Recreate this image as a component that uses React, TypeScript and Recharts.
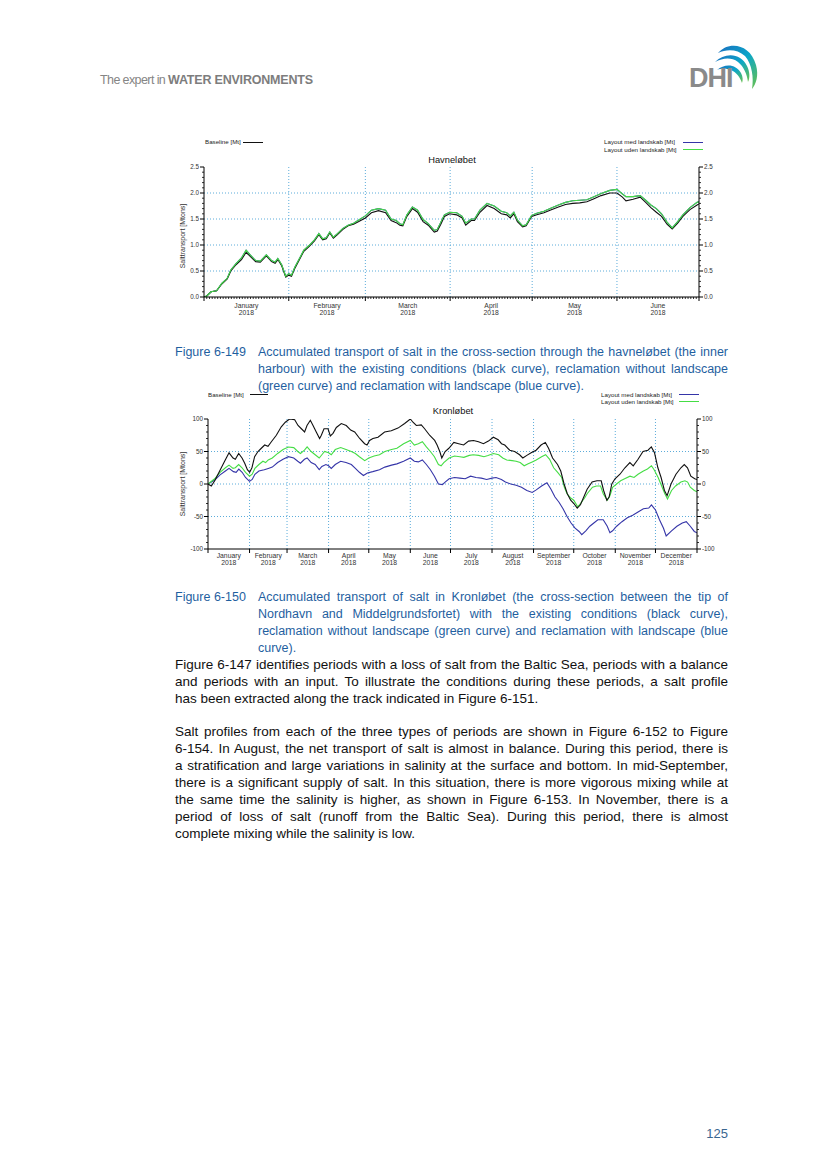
import React from 'react';
import { LineChart, Line, XAxis, YAxis, ReferenceLine } from 'recharts';

const FONT = '"Liberation Sans", Arial, Helvetica, sans-serif';

const MONTH_NAMES = ['January', 'February', 'March', 'April', 'May', 'June', 'July', 'August', 'September', 'October', 'November', 'December'];
const YEAR = '2018';
const MONTH_START_DAYS = [0, 31, 59, 90, 120, 151, 181, 212, 243, 273, 304, 334, 365];

// ---------- Havneløbet (Jan - Jun 2018), Mt ----------
const havnDays = [0, 1, 2.6, 4.6, 6.5, 8.5, 9.8, 11.7, 13.7, 15.4, 16.9, 18.9, 20.6, 22.8, 24.7, 26, 27, 28.4, 29.9, 31, 32, 33.2, 35.2, 36.5, 38.4, 40.4, 42, 43.4, 44.7, 46, 47.3, 48.8, 50.8, 52.7, 54.7, 56.6, 59, 61.2, 63.8, 66.4, 68.4, 70.3, 71.6, 72.7, 74.2, 76.2, 78.1, 80.1, 82, 84.2, 85.3, 86.6, 87.9, 89.8, 92.4, 94.4, 95.7, 97.7, 98.9, 100.9, 103.5, 106.1, 108.7, 110.7, 112, 113.3, 114.6, 116.5, 117.8, 119.8, 121.7, 124.3, 127, 129.6, 132.2, 134.8, 137.4, 140, 142.6, 145.2, 148.4, 151, 153, 154.3, 156.9, 159.5, 161.5, 163.4, 165.4, 167.3, 169.3, 171.2, 173.2, 175.1, 177.7, 180.3, 181];
const havnBaseline = [0, 0.02, 0.1, 0.12, 0.25, 0.35, 0.5, 0.62, 0.72, 0.86, 0.78, 0.68, 0.67, 0.79, 0.68, 0.65, 0.72, 0.6, 0.38, 0.42, 0.4, 0.55, 0.75, 0.88, 0.97, 1.08, 1.2, 1.1, 1.12, 1.23, 1.13, 1.2, 1.3, 1.37, 1.4, 1.45, 1.52, 1.62, 1.66, 1.62, 1.47, 1.43, 1.38, 1.37, 1.55, 1.7, 1.63, 1.45, 1.38, 1.25, 1.27, 1.4, 1.55, 1.6, 1.58, 1.52, 1.38, 1.47, 1.47, 1.63, 1.76, 1.7, 1.6, 1.58, 1.52, 1.6, 1.45, 1.35, 1.37, 1.55, 1.58, 1.62, 1.68, 1.73, 1.78, 1.8, 1.81, 1.83, 1.89, 1.95, 2.0, 2.0, 1.92, 1.85, 1.88, 1.92, 1.82, 1.72, 1.63, 1.55, 1.4, 1.31, 1.42, 1.55, 1.68, 1.77, 1.79];
const havnUden = [0, 0.02, 0.1, 0.12, 0.26, 0.36, 0.52, 0.64, 0.75, 0.9, 0.81, 0.7, 0.69, 0.81, 0.7, 0.67, 0.74, 0.62, 0.4, 0.45, 0.42, 0.57, 0.77, 0.9, 0.99, 1.1, 1.22, 1.12, 1.14, 1.25, 1.15, 1.22, 1.32, 1.38, 1.42, 1.48, 1.56, 1.67, 1.7, 1.67, 1.5, 1.47, 1.41, 1.39, 1.58, 1.73, 1.67, 1.49, 1.41, 1.28, 1.3, 1.44, 1.58, 1.63, 1.62, 1.55, 1.42, 1.5, 1.5, 1.67, 1.8, 1.75, 1.65, 1.62, 1.56, 1.63, 1.48, 1.37, 1.39, 1.57, 1.61, 1.65, 1.71, 1.77, 1.82, 1.85, 1.86, 1.87, 1.93, 1.99, 2.05, 2.07, 1.98, 1.93, 1.93, 1.95, 1.86, 1.77, 1.7, 1.6, 1.44, 1.33, 1.45, 1.58, 1.72, 1.82, 1.83];
// the blue curve lies directly under the green one in this figure
const havnMed = [0, 0.02, 0.1, 0.12, 0.26, 0.36, 0.52, 0.64, 0.75, 0.9, 0.81, 0.7, 0.69, 0.81, 0.7, 0.67, 0.74, 0.62, 0.4, 0.45, 0.42, 0.57, 0.77, 0.9, 0.99, 1.1, 1.22, 1.12, 1.14, 1.25, 1.15, 1.22, 1.32, 1.38, 1.42, 1.48, 1.56, 1.67, 1.7, 1.67, 1.5, 1.47, 1.41, 1.39, 1.58, 1.73, 1.67, 1.49, 1.41, 1.28, 1.3, 1.44, 1.58, 1.63, 1.62, 1.55, 1.42, 1.5, 1.5, 1.67, 1.8, 1.75, 1.65, 1.62, 1.56, 1.63, 1.48, 1.37, 1.39, 1.57, 1.61, 1.65, 1.71, 1.77, 1.82, 1.85, 1.86, 1.87, 1.93, 1.99, 2.05, 2.07, 1.98, 1.93, 1.93, 1.95, 1.86, 1.77, 1.7, 1.6, 1.44, 1.33, 1.45, 1.58, 1.72, 1.82, 1.83];

// ---------- Kronløbet (Jan - Dec 2018), Mt ----------
const kronBaseDays = [0, 2.5, 5, 8.7, 12.4, 15.7, 18.7, 20.4, 22.9, 25.4, 27.4, 29.4, 31.1, 32.8, 34.8, 37.3, 39.8, 42.3, 44.8, 47.3, 51, 54.7, 57.7, 60.9, 64.7, 67.2, 69.7, 72.1, 73.9, 76.4, 78.4, 80.8, 83.3, 84.6, 86.6, 89.6, 91.3, 93.3, 95.8, 99.5, 103.2, 106.5, 109.5, 113.2, 116.9, 118.7, 120.6, 123.1, 126.9, 131.8, 136.8, 141.8, 146.8, 151, 153, 155.5, 159.2, 161.7, 165.4, 169.2, 171, 173, 174.5, 177, 179.8, 183.5, 187.1, 190.8, 194.5, 198.2, 201.9, 205.6, 209.3, 213, 216.6, 219.1, 221.5, 225.2, 228.9, 232.6, 235, 238, 241.2, 244.9, 248.6, 251.8, 254.2, 257.2, 260.9, 263.3, 265.8, 268.2, 270.7, 273.1, 275.6, 278, 280.5, 283, 286.7, 290.3, 293.5, 295.3, 297.7, 299.4, 301.4, 303.8, 307.5, 311.2, 314.9, 317.4, 321, 324.7, 328.4, 330.9, 333.3, 335.8, 338.2, 340.7, 342.7, 345.6, 349.3, 353, 355.5, 357.9, 360.4, 363.3, 365];
const kronBaseline = [0, -3, 5, 20, 35, 48, 40, 38, 47, 40, 32, 22, 18, 25, 42, 50, 55, 60, 58, 65, 75, 88, 95, 100, 99, 90, 85, 80, 90, 98, 90, 80, 70, 75, 85, 85, 74, 78, 87, 93, 90, 83, 80, 70, 62, 60, 67, 70, 72, 80, 82, 86, 93, 100, 95, 90, 91, 85, 75, 67, 60, 50, 40, 50, 55, 64, 62, 60, 66, 67, 65, 62, 66, 72, 68, 62, 60, 52, 50, 45, 40, 44, 48, 52, 60, 64, 55, 40, 30, 20, 0, -15, -25, -30, -37, -32, -20, -8, 3, 5, 5, -10, -25, -20, 0, 8, 15, 25, 33, 28, 38, 50, 52, 57, 48, 25, 10, -10, -18, 0, 15, 25, 30, 25, 12, 8, 7];

const kronUdenDays = [0, 5, 9, 13, 15.7, 18.7, 20.4, 22.9, 25.4, 28, 31, 33, 35, 38, 41, 43, 45, 48, 52, 56, 60, 64, 67, 69, 72, 74, 77, 80, 83, 85, 87, 90, 92, 95, 99, 103, 107, 110, 113, 117, 120, 124, 128, 132, 137, 141, 146, 151, 154, 157, 160, 163, 166, 169, 172, 174, 176, 180, 184, 188, 191, 195, 198, 202, 206, 209, 213, 217, 220, 223, 227, 230, 233, 236, 239, 242, 245, 249, 252, 255, 258, 261, 264, 266, 268, 271, 273, 276, 278, 281, 283, 287, 290, 293, 295, 298, 300, 302, 305, 308, 311, 315, 318, 321, 325, 328, 331, 333, 336, 338, 341, 343, 346, 349, 353, 356, 358, 360, 363, 365];
const kronUden = [0, 8, 18, 25, 29, 24, 25, 30, 25, 18, 12, 15, 24, 30, 35, 33, 37, 40, 47, 53, 57, 56, 50, 47, 52, 57, 50, 45, 40, 45, 50, 48, 45, 53, 56, 53, 50, 47, 42, 36, 40, 43, 45, 50, 53, 55, 62, 67, 60, 62, 65, 57, 50, 42, 30, 28, 33, 40, 43, 42, 41, 44, 45, 44, 42, 44, 47, 45, 40, 37, 36, 35, 33, 28, 31, 34, 37, 42, 45, 38, 25, 18, 10, -5, -15, -22, -25, -35, -30, -22, -15, -5, -3, -3, -15, -25, -18, -5, 0, 5, 8, 12, 10, 15, 20, 23, 28, 22, 10, 0, -15, -23, -10, -3, 3, 5, 3, -5, -10, -12];

const kronMedDays = [0, 5, 9, 13, 15.7, 19, 21, 23, 25.5, 28, 31, 33, 35, 38, 42, 45, 48, 52, 56, 60, 64, 67, 69, 72, 74, 77, 80, 83, 85, 88, 90, 92, 95, 99, 103, 107, 110, 113, 116, 119, 123, 128, 132, 137, 141, 146, 151, 154, 157, 160, 163, 166, 169, 172, 175, 177, 180, 184, 188, 192, 196, 200, 204, 208, 212, 215, 219, 222, 226, 230, 234, 238, 242, 245, 249, 253, 256, 259, 262, 265, 268, 271, 274, 277, 279, 282, 285, 288, 291, 295, 298, 300, 302, 305, 309, 313, 317, 321, 325, 329, 331, 334, 337, 340, 342, 346, 350, 354, 357, 360, 363, 365];
const kronMed = [0, 6, 14, 20, 24, 19, 18, 23, 18, 10, 4, 7, 15, 20, 22, 24, 26, 33, 38, 42, 40, 35, 32, 38, 40, 33, 30, 22, 27, 30, 28, 24, 30, 35, 33, 30, 24, 18, 13, 17, 19, 22, 26, 29, 31, 35, 40, 35, 34, 37, 30, 22, 12, 0, -1, 3, 8, 10, 9, 8, 12, 10, 9, 7, 9, 10, 7, 3, 0, -2, -5, -10, -13, -9, -3, 2, -8, -20, -28, -38, -50, -60, -68, -73, -78, -72, -65, -60, -55, -55, -65, -75, -72, -65, -58, -52, -48, -43, -38, -37, -32, -40, -55, -68, -80, -72, -65, -60, -58, -65, -73, -75];

const havnYTicks = [0, 0.5, 1.0, 1.5, 2.0, 2.5];
const kronYTicks = [-100, -50, 0, 50, 100];

const BLACK = '#111111';
const GREEN = '#45dd45';
const BLUE = '#3535a8';
const GRID = '#4aa3d6';

const toPts = (days: number[], vals: number[]) => days.map((d, i) => ({ d, v: vals[i] }));

type Series = { name: string; pts: { d: number; v: number }[]; color: string };

type ChartProps = {
  left: number; top: number; width: number; height: number;
  marginTop: number; yWidthL: number; yWidthR: number; xHeight: number;
  monthCount: number; yMajor: number[]; yMinorStep: number; yDecimals: number;
  series: Series[]; minorX: boolean; xdy1: number; xdy2: number;
};

function SaltChart(p: ChartProps) {
  const starts = MONTH_START_DAYS.slice(0, p.monthCount + 1);
  const xMax = starts[starts.length - 1];
  const mids = starts.slice(0, -1).map((s, i) => s + (starts[i + 1] - s) / 2);
  const names = MONTH_NAMES.slice(0, p.monthCount);
  const tickSet = new Set<number>([...starts, ...mids]);
  if (p.minorX) for (let i = 0; i <= xMax; i++) tickSet.add(i);
  const xTicks = Array.from(tickSet).sort((a, b) => a - b);

  const yMin = p.yMajor[0];
  const yMax = p.yMajor[p.yMajor.length - 1];
  const n = Math.round((yMax - yMin) / p.yMinorStep);
  const yTicks: number[] = [];
  for (let i = 0; i <= n; i++) yTicks.push(Number((yMin + i * p.yMinorStep).toFixed(4)));
  const isMajorY = (v: number) => p.yMajor.some((m) => Math.abs(m - v) < 1e-6);

  const xTick = (props: any) => {
    const v = props.payload.value;
    const x = props.x;
    const y = props.y;
    const isStart = starts.includes(v);
    const mi = mids.indexOf(v);
    return (
      <g>
        {isStart ? <line x1={x} x2={x} y1={y} y2={y + 4} stroke="#000" strokeWidth={1} /> : null}
        {!isStart && p.minorX && Number.isInteger(v) ? <line x1={x} x2={x} y1={y} y2={y + 2} stroke="#000" strokeWidth={0.8} /> : null}
        {mi >= 0 ? (
          <text x={x} y={y + p.xdy1} textAnchor="middle" fontSize={6.8} fill="#333" fontFamily={FONT}>{names[mi]}</text>
        ) : null}
        {mi >= 0 ? (
          <text x={x} y={y + p.xdy2} textAnchor="middle" fontSize={6.8} fill="#333" fontFamily={FONT}>{YEAR}</text>
        ) : null}
      </g>
    );
  };

  const yTick = (side: 'l' | 'r') => (props: any) => {
    const v = props.payload.value;
    const x = props.x;
    const y = props.y;
    const major = isMajorY(v);
    const len = major ? 4 : 2;
    const s = side === 'l' ? -1 : 1;
    return (
      <g>
        <line x1={x} x2={x + s * len} y1={y} y2={y} stroke="#000" strokeWidth={major ? 1 : 0.8} />
        {major ? (
          <text x={x + s * 5} y={y} dy="0.35em" textAnchor={side === 'l' ? 'end' : 'start'} fontSize={6.3} fill="#333" fontFamily={FONT}>
            {v.toFixed(p.yDecimals)}
          </text>
        ) : null}
      </g>
    );
  };

  const gridY = p.yMajor.slice(1, -1);
  const gridX = starts.slice(1, -1);

  return (
    <div style={{ position: 'absolute', left: p.left, top: p.top }}>
      <LineChart width={p.width} height={p.height} margin={{ top: p.marginTop, right: 0, bottom: 0, left: 0 }}>
        <XAxis xAxisId="x" type="number" dataKey="d" domain={[0, xMax]} allowDataOverflow ticks={xTicks} interval={0}
          tick={xTick} tickLine={false} tickSize={0} tickMargin={0} height={p.xHeight}
          axisLine={{ stroke: '#000', strokeWidth: 1 }} />
        <YAxis yAxisId="l" type="number" orientation="left" domain={[yMin, yMax]} allowDataOverflow ticks={yTicks} interval={0}
          tick={yTick('l')} tickLine={false} tickSize={0} tickMargin={0} width={p.yWidthL}
          axisLine={{ stroke: '#000', strokeWidth: 1 }} />
        <YAxis yAxisId="r" type="number" orientation="right" domain={[yMin, yMax]} allowDataOverflow ticks={yTicks} interval={0}
          tick={yTick('r')} tickLine={false} tickSize={0} tickMargin={0} width={p.yWidthR}
          axisLine={{ stroke: '#000', strokeWidth: 1 }} />
        {gridY.map((g) => (
          <ReferenceLine key={'gy' + g} xAxisId="x" yAxisId="l" y={g} stroke={GRID} strokeWidth={0.9} strokeDasharray="1 2" />
        ))}
        {gridX.map((g) => (
          <ReferenceLine key={'gx' + g} xAxisId="x" yAxisId="l" x={g} stroke={GRID} strokeWidth={0.9} strokeDasharray="1 2" />
        ))}
        {p.series.map((s) => (
          <Line key={s.name} xAxisId="x" yAxisId="l" data={s.pts} dataKey="v" type="linear" stroke={s.color}
            strokeWidth={1.1} dot={false} activeDot={false} isAnimationActive={false} />
        ))}
        <Line key="axisR" xAxisId="x" yAxisId="r" data={p.series[0].pts} dataKey="v" stroke="none" dot={false} activeDot={false} isAnimationActive={false} />
      </LineChart>
    </div>
  );
}

function T(props: { x: number; y: number; size: number; color?: string; children: React.ReactNode; anchor?: 'start' | 'middle' | 'end'; bold?: boolean }) {
  const tx = props.anchor === 'middle' ? '-50%' : props.anchor === 'end' ? '-100%' : '0';
  return (
    <div style={{
      position: 'absolute', left: props.x, top: props.y, transform: `translate(${tx}, -50%)`,
      fontSize: props.size, lineHeight: 1, color: props.color || '#222', whiteSpace: 'nowrap',
      fontFamily: FONT, fontWeight: props.bold ? 700 : 400,
    }}>{props.children}</div>
  );
}

function LegendLine(props: { x1: number; x2: number; y: number; color: string }) {
  return <div style={{ position: 'absolute', left: props.x1, top: props.y - 0.5, width: props.x2 - props.x1, height: 1, background: props.color }} />;
}

function YLabel(props: { x: number; y: number }) {
  return (
    <div style={{
      position: 'absolute', left: props.x, top: props.y, transform: 'translate(-50%, -50%) rotate(-90deg)',
      fontSize: 7, color: '#333', whiteSpace: 'nowrap', fontFamily: FONT, lineHeight: 1,
    }}>Salttransport [Mtons]</div>
  );
}

function Lines(props: { left: number; top: number; width: number; size: number; color: string; lines: string[]; lastJustified?: boolean }) {
  return (
    <div style={{ position: 'absolute', left: props.left, top: props.top, width: props.width, fontFamily: FONT, fontSize: props.size, lineHeight: '17px', color: props.color }}>
      {props.lines.map((l, i) => {
        const last = i === props.lines.length - 1 && !props.lastJustified;
        return (
          <div key={i} style={{ textAlign: last ? 'left' : 'justify', textAlignLast: last ? 'left' : 'justify', whiteSpace: 'normal' } as React.CSSProperties}>{l}</div>
        );
      })}
    </div>
  );
}

const CAPTION_149 = [
  'Accumulated transport of salt in the cross-section through the havneløbet (the inner',
  'harbour) with the existing conditions (black curve), reclamation without landscape',
  '(green curve) and reclamation with landscape (blue curve).',
];
const CAPTION_150 = [
  'Accumulated transport of salt in Kronløbet (the cross-section between the tip of',
  'Nordhavn and Middelgrundsfortet) with the existing conditions (black curve),',
  'reclamation without landscape (green curve) and reclamation with landscape (blue',
  'curve).',
];
const PARA_1 = [
  'Figure 6-147 identifies periods with a loss of salt from the Baltic Sea, periods with a balance',
  'and periods with an input. To illustrate the conditions during these periods, a salt profile',
  'has been extracted along the track indicated in Figure 6-151.',
];
const PARA_2 = [
  'Salt profiles from each of the three types of periods are shown in Figure 6-152 to Figure',
  '6-154. In August, the net transport of salt is almost in balance. During this period, there is',
  'a stratification and large variations in salinity at the surface and bottom. In mid-September,',
  'there is a significant supply of salt. In this situation, there is more vigorous mixing while at',
  'the same time the salinity is higher, as shown in Figure 6-153. In November, there is a',
  'period of loss of salt (runoff from the Baltic Sea). During this period, there is almost',
  'complete mixing while the salinity is low.',
];

const CAPTION_BLUE = '#1f5f9f';

function Logo() {
  return (
    <svg style={{ position: 'absolute', left: 684, top: 40 }} width={78} height={52}>
      <defs>
        <linearGradient id="sw" x1="0" y1="0" x2="1" y2="1">
          <stop offset="0" stopColor="#1b6fc0" />
          <stop offset="0.5" stopColor="#0aa6c8" />
          <stop offset="1" stopColor="#6cc24a" />
        </linearGradient>
      </defs>
      <path d="M34,13 C44,1 66,3 72,25 C75,36 72,44 68,49 C70,38 68,24 61,16 C53,9 43,9 34,13 Z" fill="url(#sw)" />
      <path d="M31,22 C41,12 57,13 63,26 C66,32 66,38 64,42 C63,34 60,27 54,22 C47,17 39,18 31,22 Z" fill="url(#sw)" />
      <path d="M33,30 C41,23 52,24 57,33 C59,37 59,40 58,43 C56,37 52,32 47,30 C42,28 37,28 33,30 Z" fill="url(#sw)" />
      <text x={5} y={47} fontFamily={FONT} fontWeight={700} fontSize={27} fill="#8a8a8a" letterSpacing={-1}>DHI</text>
    </svg>
  );
}

export default function App() {
  const havnSeries: Series[] = [
    { name: 'med', pts: toPts(havnDays, havnMed), color: BLUE },
    { name: 'base', pts: toPts(havnDays, havnBaseline), color: BLACK },
    { name: 'uden', pts: toPts(havnDays, havnUden), color: GREEN },
  ];
  const kronSeries: Series[] = [
    { name: 'med', pts: toPts(kronMedDays, kronMed), color: BLUE },
    { name: 'uden', pts: toPts(kronUdenDays, kronUden), color: GREEN },
    { name: 'base', pts: toPts(kronBaseDays, kronBaseline), color: BLACK },
  ];

  return (
    <div style={{ position: 'absolute', left: 0, top: 0, width: 827, height: 1169, background: '#fff', overflow: 'hidden', fontFamily: FONT }}>
      {/* header */}
      <div style={{ position: 'absolute', left: 100, top: 80, transform: 'translateY(-50%)', whiteSpace: 'nowrap', fontFamily: FONT, fontSize: 12.5, lineHeight: 1, color: '#858585' }}>
        <span style={{ letterSpacing: -0.6 }}>The expert in </span>
        <span style={{ fontWeight: 700, letterSpacing: -0.2, color: '#7d7d7d' }}>WATER ENVIRONMENTS</span>
      </div>
      <Logo />

      {/* Figure 6-149 chart */}
      <T x={205} y={142} size={6.2}>Baseline [Mt]</T>
      <LegendLine x1={243} x2={263} y={142} color={BLACK} />
      <T x={604} y={142} size={6.2}>Layout med landskab  [Mt]</T>
      <LegendLine x1={683} x2={703} y={142} color={BLUE} />
      <T x={604} y={149.5} size={6.2}>Layout uden landskab [Mt]</T>
      <LegendLine x1={683} x2={703} y={149.5} color={GREEN} />
      <T x={452} y={161} size={9.3} anchor="middle" color="#111">Havneløbet</T>
      <YLabel x={182} y={236} />
      <SaltChart left={160} top={155} width={580} height={170} marginTop={12} yWidthL={44} yWidthR={41} xHeight={28}
        monthCount={6} yMajor={havnYTicks} yMinorStep={0.1} yDecimals={1} series={havnSeries} minorX={true} xdy1={10.5} xdy2={18} />

      <T x={175} y={352} size={12.5} color={CAPTION_BLUE}>Figure 6-149</T>
      <Lines left={258} top={343.5} width={470} size={12.5} color={CAPTION_BLUE} lines={CAPTION_149} />

      {/* Figure 6-150 chart */}
      <T x={208} y={394.5} size={6.2}>Baseline [Mt]</T>
      <LegendLine x1={250} x2={268} y={394.5} color={BLACK} />
      <T x={601} y={394.5} size={6.2}>Layout med landskab  [Mt]</T>
      <LegendLine x1={679} x2={699} y={394.5} color={BLUE} />
      <T x={601} y={401.5} size={6.2}>Layout uden landskab [Mt]</T>
      <LegendLine x1={679} x2={699} y={401.5} color={GREEN} />
      <T x={453} y={412} size={9.3} anchor="middle" color="#111">Kronløbet</T>
      <YLabel x={182} y={484} />
      <SaltChart left={160} top={405} width={580} height={170} marginTop={14} yWidthL={48} yWidthR={43} xHeight={26}
        monthCount={12} yMajor={kronYTicks} yMinorStep={10} yDecimals={0} series={kronSeries} minorX={false} xdy1={9} xdy2={16} />

      <T x={175} y={597} size={12.5} color={CAPTION_BLUE}>Figure 6-150</T>
      <Lines left={258} top={588.5} width={470} size={12.5} color={CAPTION_BLUE} lines={CAPTION_150} />

      {/* body text */}
      <Lines left={175} top={655.5} width={553} size={13.5} color="#111" lines={PARA_1} />
      <Lines left={175} top={722.5} width={553} size={13.5} color="#111" lines={PARA_2} />

      <T x={728} y={1133} size={13} anchor="end" color="#3a6690">125</T>
    </div>
  );
}
